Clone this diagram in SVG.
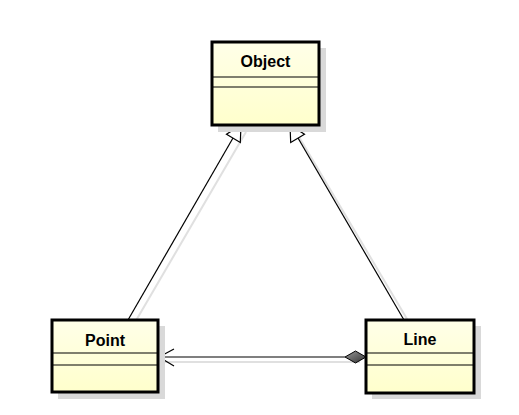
<svg xmlns="http://www.w3.org/2000/svg" width="519" height="415" viewBox="0 0 519 415">
<defs>
<linearGradient id="fill" x1="0" y1="0" x2="0" y2="1">
<stop offset="0" stop-color="#FFFFE8"/>
<stop offset="1" stop-color="#FFFFCC"/>
</linearGradient>
<linearGradient id="dia" x1="0" y1="0" x2="1" y2="1">
<stop offset="0" stop-color="#9a9a9a"/>
<stop offset="1" stop-color="#303030"/>
</linearGradient>
<style>
.shadow{fill:#d9d9d9}
.box{fill:url(#fill);stroke:#000;stroke-width:3}
.div{stroke:#000;stroke-width:1.2}
.t{font-family:"Liberation Sans",Arial,sans-serif;font-size:16px;font-weight:bold;text-anchor:middle;fill:#000}
.ln{stroke:#000;stroke-width:1.2;fill:none}
.sh{stroke:#e0e0e0;stroke-width:2;fill:none}
</style>
</defs>
<rect width="519" height="415" fill="#fff"/>
<g id="connectors">
<line class="sh" x1="134" y1="324" x2="246" y2="132"/>
<line class="sh" x1="410" y1="324" x2="296" y2="132"/>
<line class="sh" x1="162" y1="362" x2="360" y2="362"/>
<line class="ln" x1="128" y1="320" x2="233" y2="138"/>
<polygon points="241,125 240.3,142.5 226.5,134.3" fill="#fff" stroke="#000" stroke-width="1.2"/>
<line class="ln" x1="404" y1="320" x2="298" y2="138"/>
<polygon points="290,125 290.7,142.5 304.5,134.3" fill="#fff" stroke="#000" stroke-width="1.2"/>
<line class="ln" x1="159" y1="357" x2="345" y2="357"/>
<polyline class="ln" points="174,349 159,357 174,366"/>
<polygon points="366,357 355.5,351 345,357 355.5,363" fill="url(#dia)" stroke="#000" stroke-width="1"/>
</g>
<g id="Object">
<rect class="shadow" x="218" y="48" width="108" height="84"/>
<rect class="box" x="212" y="42" width="107" height="83"/>
<line class="div" x1="212" y1="77" x2="319" y2="77"/>
<line class="div" x1="212" y1="87" x2="319" y2="87"/>
<text class="t" x="265.5" y="67">Object</text>
</g>
<g id="Point">
<rect class="shadow" x="58" y="326" width="107" height="73"/>
<rect class="box" x="52" y="320" width="106" height="72"/>
<line class="div" x1="52" y1="353" x2="158" y2="353"/>
<line class="div" x1="52" y1="365" x2="158" y2="365"/>
<text class="t" x="105" y="345.5">Point</text>
</g>
<g id="Line">
<rect class="shadow" x="372" y="326" width="109" height="73"/>
<rect class="box" x="366" y="320" width="108" height="73"/>
<line class="div" x1="366" y1="353" x2="474" y2="353"/>
<line class="div" x1="366" y1="365" x2="474" y2="365"/>
<text class="t" x="420" y="345">Line</text>
</g>
</svg>
